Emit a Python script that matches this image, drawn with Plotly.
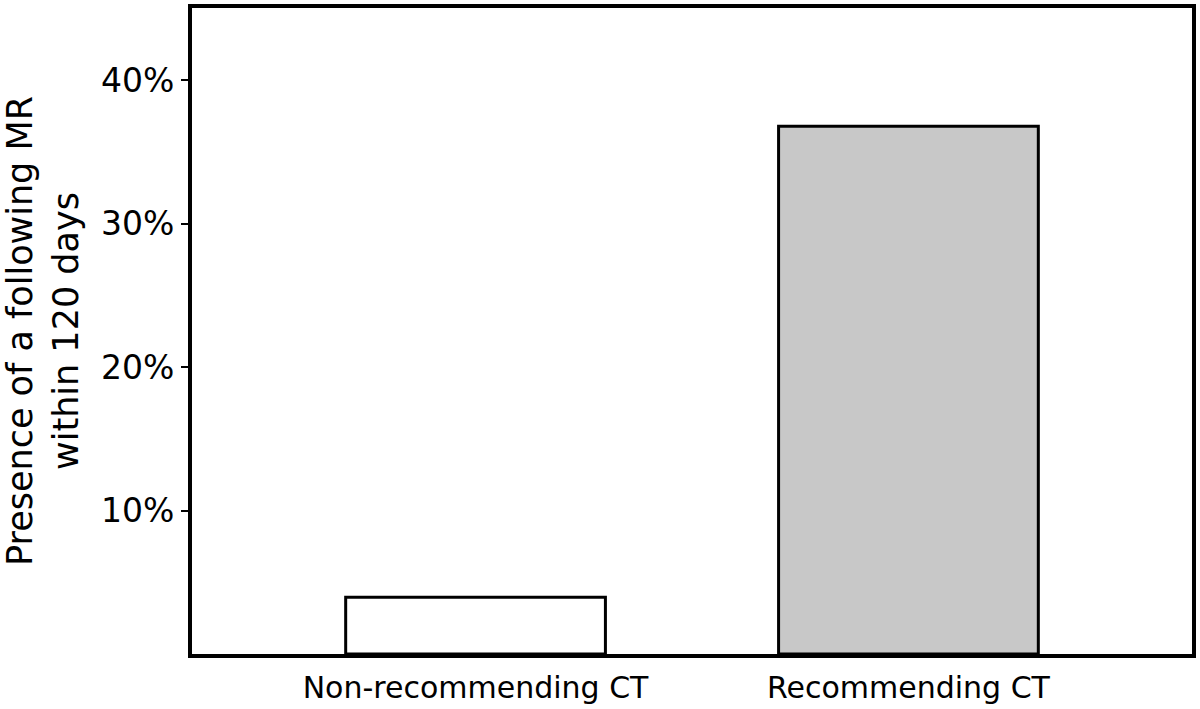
import plotly.graph_objects as go

categories = ["Non-recommending CT", "Recommending CT"]
values = [0.0396, 0.368]
bar_colors = ["#ffffff", "#c8c8c8"]
y_ticks = [0.1, 0.2, 0.3, 0.4]
y_ticklabels = ["10%", "20%", "30%", "40%"]

fig = go.Figure()
fig.add_trace(go.Bar(
    x=[0, 1], y=values, width=0.6,
    marker=dict(color=bar_colors, line=dict(color="black", width=3)),
))

fig.update_layout(
    width=1200, height=709,
    margin=dict(l=192, r=4, t=5, b=55),
    plot_bgcolor="white", paper_bgcolor="white",
    showlegend=False,
    font=dict(family="DejaVu Sans", color="black"),
)
fig.update_xaxes(
    range=[-0.655, 1.655], tickvals=[0, 1], ticktext=categories,
    showline=True, linecolor="black", linewidth=4, mirror=True,
    showgrid=False, zeroline=False, ticks="", tickfont=dict(size=30),
    ticklabelstandoff=4,
)
fig.update_yaxes(
    range=[0, 0.4505], tickvals=y_ticks, ticktext=y_ticklabels,
    showline=True, linecolor="black", linewidth=4, mirror=True,
    showgrid=False, zeroline=False, ticks="outside", ticklen=7, tickwidth=2,
    tickcolor="black", tickfont=dict(size=33),
    title=dict(text="Presence of a following MR<br>within 120 days", font=dict(size=35), standoff=16),
)

fig.write_html("out.html", config={"displayModeBar": False},
               post_script="document.body.style.margin='0';")
